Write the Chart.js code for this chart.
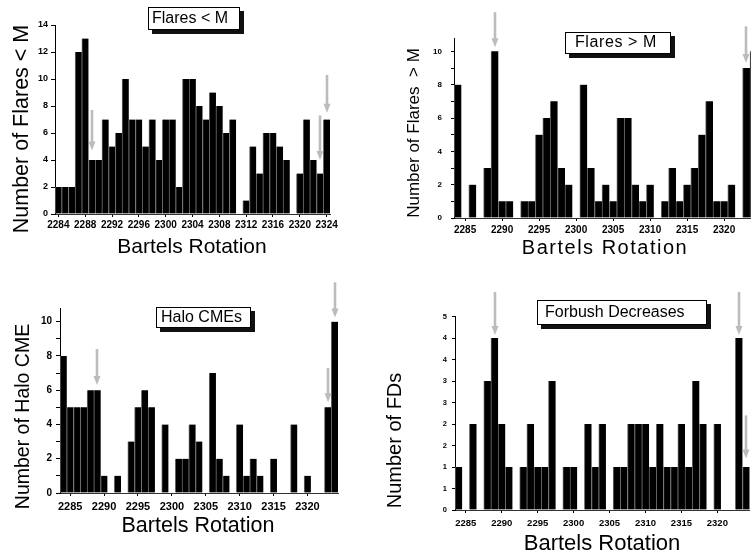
<!DOCTYPE html>
<html><head><meta charset="utf-8">
<script src="https://cdn.jsdelivr.net/npm/chart.js@4.4.1/dist/chart.umd.min.js"></script>
<style>
html,body{margin:0;padding:0;background:#fff;width:751px;height:556px;overflow:hidden;position:relative}
canvas{position:absolute}
</style></head><body>
<canvas id="c1" width="375" height="275" style="left:0;top:0"></canvas>
<canvas id="c2" width="390" height="275" style="left:375px;top:0"></canvas>
<canvas id="c3" width="375" height="281" style="left:0;top:275px"></canvas>
<canvas id="c4" width="376" height="281" style="left:375px;top:275px"></canvas>
<script>
// ---- data ----
const rotations = ['2284','2285','2286','2287','2288','2289','2290','2291','2292','2293','2294','2295','2296','2297','2298','2299','2300','2301','2302','2303','2304','2305','2306','2307','2308','2309','2310','2311','2312','2313','2314','2315','2316','2317','2318','2319','2320','2321','2322','2323','2324'];
const flaresBelowM = [2,2,2,12,13,4,4,7,5,6,10,7,7,5,7,4,7,7,2,10,10,8,7,9,8,6,7,0,1,5,3,6,6,5,4,0,3,7,4,3,7];
const flaresAboveM = [8,0,2,0,3,10,1,1,0,1,1,5,6,7,3,2,0,8,3,1,2,1,6,6,2,1,2,0,1,3,1,2,3,5,7,1,1,2,0,9,10];
const haloCMEs = [8,5,5,5,6,6,1,0,1,0,3,5,6,5,0,4,0,2,2,4,3,0,7,2,1,0,4,1,2,1,0,2,0,0,4,0,1,0,0,5,10];
const forbushDecreases = [1,0,2,0,3,4,2,1,0,1,2,1,1,3,0,1,1,0,2,1,2,0,1,1,2,2,2,1,2,1,1,2,1,3,2,0,2,0,0,4,1];

const xLabelsBy4 = ['2284','2288','2292','2296','2300','2304','2308','2312','2316','2320','2324'];
const xLabelsBy5 = ['2285','2290','2295','2300','2305','2310','2315','2320'];

const flaresBelowYTicks = [0,2,4,6,8,10,12,14];
const flaresBelowYLabels = ['0','2','4','6','8','10','12','14'];
const flaresBelowYMinor = [1,3,5,7,9,11,13];
const tenYTicks = [0,2,4,6,8,10];
const tenYLabels = ['0','2','4','6','8','10'];
const tenYMinor = [1,3,5,7,9];
const fdYTicks = [0,0.5,1,1.5,2,2.5,3,3.5,4,4.5];
const fdYLabels = ['0','1','1','2','2','3','3','4','4','5'];
const fdYMinor = [0.25,0.75,1.25,1.75,2.25,2.75,3.25,3.75,4.25];

// arrow markers (category, start value, tip value)
const arrowsFlaresBelow = [{cat:'2289',from:7.7,to:4.7},{cat:'2323',from:7.3,to:4.0},{cat:'2324',from:10.3,to:7.5}];
const arrowsFlaresAbove = [{cat:'2289',from:12.35,to:10.24},{cat:'2323',from:11.5,to:9.3}];
const arrowsHalo = [{cat:'2289',from:8.4,to:6.3},{cat:'2323',from:7.3,to:5.3},{cat:'2324',from:12.3,to:10.25}];
const arrowsFD = [{cat:'2289',from:5.07,to:4.07},{cat:'2323',from:5.07,to:4.07},{cat:'2324',from:2.2,to:1.2}];

const FONT = '"Liberation Sans", Arial, Helvetica, sans-serif';

// ---- plugins ----
const textPlugin = {
  id: 'texts',
  afterDraw(chart, args, opts) {
    const ctx = chart.ctx;
    (opts.items || []).forEach(t => {
      ctx.save();
      ctx.translate(t.x, t.y);
      if (t.rot) ctx.rotate(t.rot);
      ctx.font = (t.bold ? 'bold ' : '') + t.size + 'px ' + FONT;
      ctx.letterSpacing = (t.ls || 0) + 'px';
      ctx.fillStyle = '#000';
      ctx.textAlign = 'center';
      ctx.textBaseline = 'middle';
      ctx.fillText(t.text, 0, 0);
      ctx.restore();
    });
  }
};
const boxPlugin = {
  id: 'boxLabel',
  afterDraw(chart, args, o) {
    if (!o.text) return;
    const ctx = chart.ctx;
    ctx.save();
    ctx.fillStyle = '#111';
    ctx.fillRect(o.x + o.sh, o.y + o.sh, o.w, o.h);
    ctx.fillStyle = '#fff';
    ctx.fillRect(o.x, o.y, o.w, o.h);
    ctx.strokeStyle = '#000';
    ctx.lineWidth = 1;
    ctx.strokeRect(o.x + 0.5, o.y + 0.5, o.w - 1, o.h - 1);
    ctx.fillStyle = '#000';
    ctx.font = o.size + 'px ' + FONT;
    ctx.letterSpacing = (o.ls || 0) + 'px';
    ctx.textAlign = 'left';
    ctx.textBaseline = 'middle';
    ctx.fillText(o.text, o.tx, o.ty);
    ctx.restore();
  }
};
const arrowPlugin = {
  id: 'arrows',
  afterDraw(chart, args, o) {
    const ctx = chart.ctx, xs = chart.scales.x, ys = chart.scales.y;
    (o.list || []).forEach(a => {
      const x = Math.round(xs.getPixelForValue(rotations.indexOf(a.cat)));
      const y0 = ys.getPixelForValue(a.from), y1 = ys.getPixelForValue(a.to);
      ctx.save();
      ctx.strokeStyle = '#bcbcbc';
      ctx.fillStyle = '#bcbcbc';
      ctx.lineWidth = 2.6;
      ctx.beginPath();
      ctx.moveTo(x, y0);
      ctx.lineTo(x, y1 - 7);
      ctx.stroke();
      ctx.beginPath();
      ctx.moveTo(x - 3.5, y1 - 9);
      ctx.lineTo(x + 3.5, y1 - 9);
      ctx.lineTo(x, y1);
      ctx.closePath();
      ctx.fill();
      ctx.restore();
    });
  }
};

function barChart(id, p) {
  return new Chart(document.getElementById(id), {
    type: 'bar',
    data: {
      labels: rotations,
      datasets: [{
        data: p.values,
        backgroundColor: '#000',
        borderColor: '#6a6a6a',
        borderWidth: {left: 1, right: 0, top: 0, bottom: 0},
        borderSkipped: false,
        barPercentage: 1,
        categoryPercentage: 1
      }]
    },
    options: {
      responsive: false,
      animation: false,
      events: [],
      layout: {padding: p.pad},
      plugins: {
        legend: {display: false},
        tooltip: {enabled: false},
        texts: {items: p.texts},
        boxLabel: p.box,
        arrows: {list: p.arrows}
      },
      scales: {
        x: {
          type: 'category',
          offset: true,
          grid: {
            offset: false,
            drawOnChartArea: false,
            tickLength: p.xTick.len,
            tickWidth: 1,
            tickColor: ctx => p.xLabels.includes(rotations[ctx.index]) ? '#000' : 'rgba(0,0,0,0)'
          },
          border: {color: '#333', width: 1},
          ticks: {
            autoSkip: false, maxRotation: 0, minRotation: 0,
            padding: p.xTick.pad, color: '#000',
            font: {family: FONT, size: p.xTick.size, weight: 'bold'},
            callback: function (v, i) { const l = rotations[i]; return p.xLabels.includes(l) ? l : ''; }
          },
          afterFit: s => { s.height = p.xHeight; s.paddingLeft = 0; s.paddingRight = 0; s.paddingTop = 0; s.paddingBottom = 0; }
        },
        y: {
          min: 0, max: p.yMax,
          grid: {drawOnChartArea: false, tickLength: p.yTick.len, tickColor: '#000', tickWidth: 1},
          border: {color: '#000', width: 1},
          ticks: {
            padding: p.yTick.pad, color: '#000',
            font: {family: FONT, size: p.yTick.size, weight: 'bold'},
            callback: v => { const k = p.yMajor.indexOf(v); return k >= 0 ? p.yLabels[k] : ''; }
          },
          afterBuildTicks: s => { s.ticks = p.yMajor.concat(p.yMinor).sort((a, b) => a - b).map(v => ({value: v})); },
          afterFit: s => { s.width = p.yWidth; s.paddingTop = 0; s.paddingBottom = 0; s.paddingLeft = 0; s.paddingRight = 0; }
        }
      }
    },
    plugins: [textPlugin, boxPlugin, arrowPlugin]
  });
}

barChart('c1', {
  values: flaresBelowM,
  pad: {left: 0, top: 25, right: 45, bottom: 0},
  xHeight: 61, yWidth: 55, yMax: 14,
  yMajor: flaresBelowYTicks, yLabels: flaresBelowYLabels, yMinor: flaresBelowYMinor,
  xLabels: xLabelsBy4,
  xTick: {len: 3, pad: 2, size: 10}, yTick: {len: 4, pad: 3, size: 9},
  texts: [
    {text: 'Bartels Rotation', x: 192, y: 247.5, size: 21},
    {text: 'Number of Flares < M', x: 22, y: 129, size: 21.5, rot: -Math.PI / 2}
  ],
  box: {text: 'Flares < M', x: 148, y: 7, w: 92, h: 23, sh: 4, tx: 152, ty: 18.5, size: 16},
  arrows: arrowsFlaresBelow
});

barChart('c2', {
  values: flaresAboveM,
  pad: {left: 0, top: 38, right: 7.6, bottom: 0},
  xHeight: 57, yWidth: 79, yMax: 10.8,
  yMajor: tenYTicks, yLabels: tenYLabels, yMinor: tenYMinor,
  xLabels: xLabelsBy5,
  xTick: {len: 3, pad: 3, size: 10}, yTick: {len: 3, pad: 9, size: 8},
  texts: [
    {text: 'Bartels Rotation', x: 230, y: 248, size: 20, ls: 1.5},
    {text: 'Number of Flares  > M', x: 39, y: 133, size: 17, rot: -Math.PI / 2}
  ],
  box: {text: 'Flares > M', x: 190, y: 32, w: 106, h: 22, sh: 4, tx: 200, ty: 43, size: 16, ls: 0.6},
  arrows: arrowsFlaresAbove
});

barChart('c3', {
  values: haloCMEs,
  pad: {left: 0, top: 33, right: 37, bottom: 0},
  xHeight: 63, yWidth: 60, yMax: 10.8,
  yMajor: tenYTicks, yLabels: tenYLabels, yMinor: tenYMinor,
  xLabels: xLabelsBy5,
  xTick: {len: 3, pad: 4, size: 11}, yTick: {len: 4, pad: 4, size: 10},
  texts: [
    {text: 'Bartels Rotation', x: 198, y: 251, size: 21.5},
    {text: 'Number of Halo CME', x: 24, y: 141.5, size: 19.5, rot: -Math.PI / 2}
  ],
  box: {text: 'Halo CMEs', x: 156, y: 32, w: 95, h: 21, sh: 4, tx: 161, ty: 42.5, size: 16},
  arrows: arrowsHalo
});

barChart('c4', {
  values: forbushDecreases,
  pad: {left: 0, top: 41.5, right: 1.3, bottom: 0},
  xHeight: 46, yWidth: 80, yMax: 4.5,
  yMajor: fdYTicks, yLabels: fdYLabels, yMinor: fdYMinor,
  xLabels: xLabelsBy5,
  xTick: {len: 3, pad: 5, size: 9.5}, yTick: {len: 3, pad: 5, size: 7.5},
  texts: [
    {text: 'Bartels Rotation', x: 227, y: 269, size: 22},
    {text: 'Number of FDs', x: 20, y: 165.5, size: 20, rot: -Math.PI / 2}
  ],
  box: {text: 'Forbush Decreases', x: 162, y: 25, w: 170, h: 25, sh: 4, tx: 170, ty: 37.5, size: 16},
  arrows: arrowsFD
});
</script>
</body></html>
